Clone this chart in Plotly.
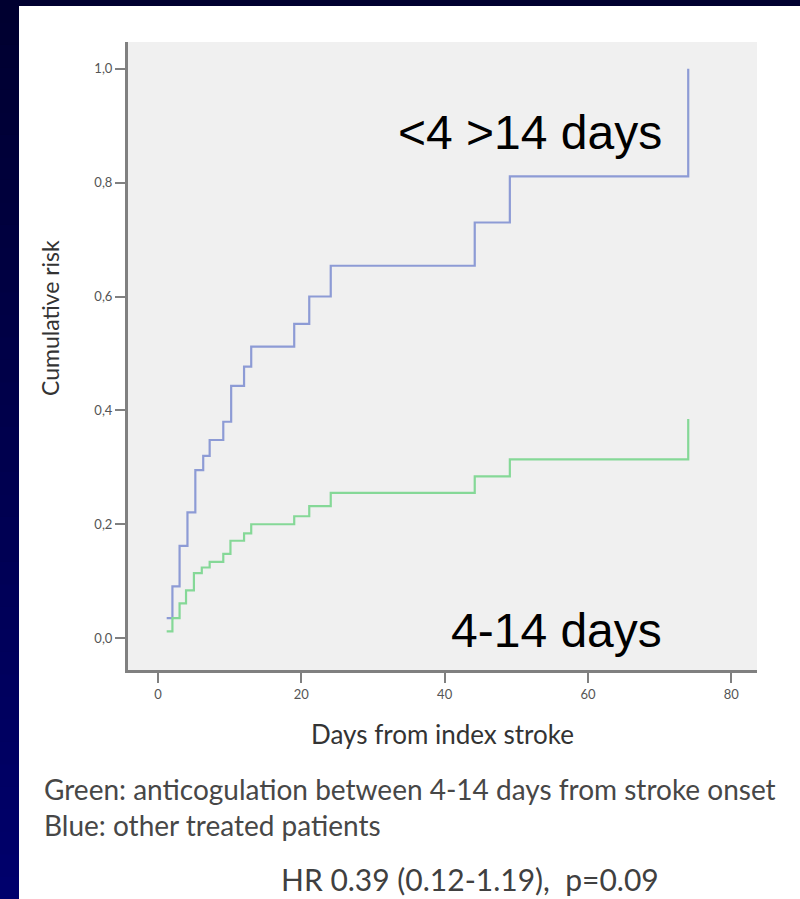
import plotly.graph_objects as go

# ---- data ----
blue_days = [1.2, 2, 3, 4.1, 5.2, 6.3, 7.2, 9.1, 10.2, 12, 13, 19, 21.1, 24.1, 44.2, 49.1, 74]
blue_risk = [0.035, 0.091, 0.162, 0.221, 0.295, 0.320, 0.348, 0.380, 0.443, 0.477, 0.512,
             0.552, 0.600, 0.654, 0.730, 0.811, 1.0]
green_days = [1.2, 2, 3, 3.9, 5.0, 6.1, 7.2, 9.1, 10.1, 12, 13, 19, 21.1, 24.1, 44.2, 49.1, 74]
green_risk = [0.012, 0.035, 0.061, 0.084, 0.114, 0.124, 0.134, 0.148, 0.171, 0.184, 0.200,
              0.214, 0.232, 0.255, 0.284, 0.314, 0.385]
x_ticks = [0, 20, 40, 60, 80]
y_ticks = [0.0, 0.2, 0.4, 0.6, 0.8, 1.0]
y_tick_labels = ["0,0", "0,2", "0,4", "0,6", "0,8", "1,0"]

W, H = 800, 899
L, R, T, B = 128, 757, 42, 670
pw, ph = R - L, B - T


def px_x(x):
    return (x - L) / pw


def px_y(y):
    return (B - y) / ph


fig = go.Figure()
fig.add_trace(go.Scatter(x=blue_days, y=blue_risk, mode="lines",
                         line=dict(shape="hv", color="#8d9bd5", width=2.2), showlegend=False))
fig.add_trace(go.Scatter(x=green_days, y=green_risk, mode="lines",
                         line=dict(shape="hv", color="#85d897", width=2.2), showlegend=False))

# navy frame: left band with vertical gradient, thin top band
shapes = []
n = 40
for i in range(n):
    t = i / (n - 1)
    bcol = int(0x30 + (0x6c - 0x30) * t)
    y0 = i * H / n
    y1 = (i + 1) * H / n + 1
    shapes.append(dict(type="rect", xref="paper", yref="paper", layer="above",
                       x0=px_x(0), x1=px_x(19), y0=px_y(y1), y1=px_y(y0),
                       line=dict(width=0), fillcolor=f"rgb(0,0,{bcol})"))
shapes.append(dict(type="rect", xref="paper", yref="paper", layer="above",
                   x0=px_x(0), x1=px_x(W), y0=px_y(6), y1=px_y(0),
                   line=dict(width=0), fillcolor="rgb(0,0,48)"))


def ann(text, x, y, size, family, color, xanchor="center", angle=0):
    return dict(text=text, x=px_x(x), y=px_y(y), xref="paper", yref="paper",
                xanchor=xanchor, yanchor="middle", textangle=angle, showarrow=False,
                font=dict(family=family, size=size, color=color))


annotations = [
    ann("<4 >14 days", 664, 132, 48, "Liberation Sans, Arial", "#000000", xanchor="right"),
    ann("4-14 days", 664, 630, 48, "Liberation Sans, Arial", "#000000", xanchor="right"),
    ann("Cumulative risk", 50, 318, 23, "Lato", "#333333", angle=-90),
    ann("Days from index stroke", 442, 734, 26, "Lato", "#333333"),
    ann("Green: anticogulation between 4-14 days from stroke onset", 42, 789, 28,
        "Lato", "#474747", xanchor="left"),
    ann("Blue: other treated patients", 42, 825, 28, "Lato", "#474747", xanchor="left"),
    ann("HR 0.39 (0.12-1.19),  p=0.09", 470, 879, 30, "Lato", "#404040"),
]

fig.update_layout(
    width=W, height=H,
    margin=dict(l=L, r=W - R, t=T, b=H - B, pad=0),
    paper_bgcolor="white", plot_bgcolor="#f0f0f0",
    shapes=shapes, annotations=annotations,
    xaxis=dict(range=[-4.2, 83.6], tickvals=x_ticks, ticks="outside", ticklen=10,
               tickcolor="#808080", tickwidth=2, showgrid=False, zeroline=False,
               showline=True, linecolor="#808080", linewidth=3,
               tickfont=dict(family="Lato", size=13, color="#555555")),
    yaxis=dict(range=[-0.056, 1.047], tickvals=y_ticks, ticktext=y_tick_labels,
               ticks="outside", ticklen=10, tickcolor="#808080", tickwidth=2,
               showgrid=False, zeroline=False, showline=True, linecolor="#808080",
               linewidth=3, tickfont=dict(family="Lato", size=13, color="#555555")),
)
fig.write_html("out.html", post_script="document.body.style.margin='0';",
               config={"displayModeBar": False})
